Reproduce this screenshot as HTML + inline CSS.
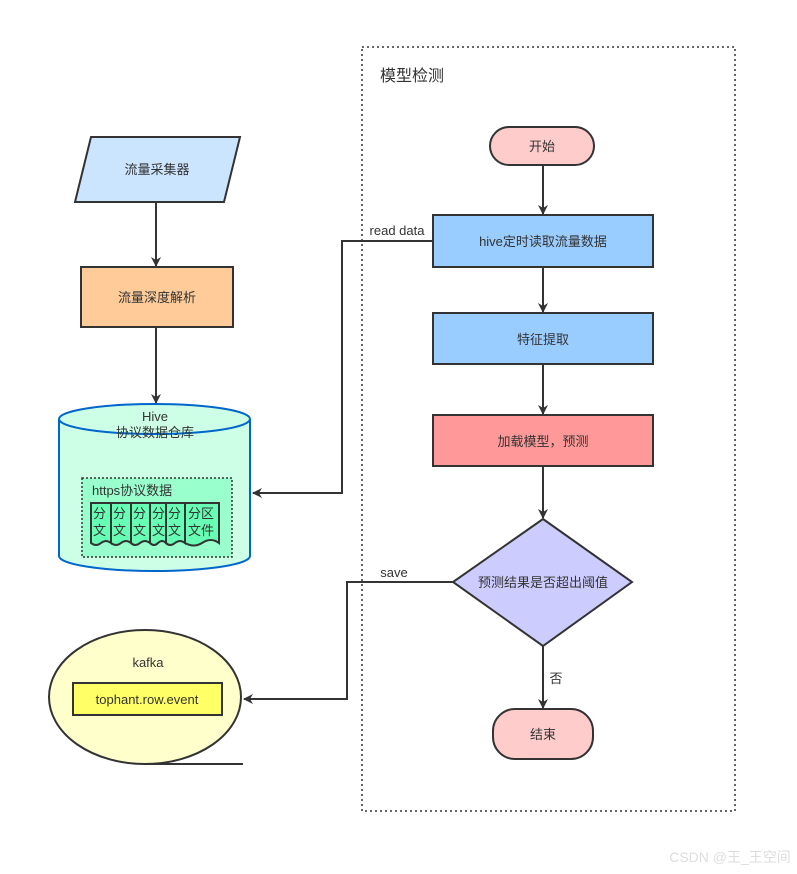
<!DOCTYPE html>
<html><head><meta charset="utf-8"><style>
html,body{margin:0;padding:0;background:#fff;}
svg{display:block;font-family:"Liberation Sans","Noto Sans CJK SC",sans-serif;}
</style></head><body>
<svg width="797" height="874" viewBox="0 0 797 874" xmlns="http://www.w3.org/2000/svg">
<defs>
<marker id="a" markerWidth="10" markerHeight="10" refX="9" refY="5" orient="auto" markerUnits="userSpaceOnUse">
<path d="M0,0 L10,5 L0,10 L3,5 Z" fill="#333"/></marker>
</defs>
<g fill="#333" font-size="13" text-anchor="middle">
<!-- container -->
<rect x="362" y="47" width="373" height="764" fill="none" stroke="#333" stroke-width="1.5" stroke-dasharray="2,3"/>
<text x="380" y="81" font-size="16" text-anchor="start">模型检测</text>

<!-- left -->
<polygon points="91,137 240,137 224,202 75,202" fill="#cce5ff" stroke="#333" stroke-width="2"/>
<text x="157" y="174">流量采集器</text>
<line x1="156" y1="202" x2="156" y2="266" stroke="#333" stroke-width="2" marker-end="url(#a)"/>
<rect x="81" y="267" width="152" height="60" fill="#ffcc99" stroke="#333" stroke-width="2"/>
<text x="157" y="302">流量深度解析</text>
<line x1="156" y1="327" x2="156" y2="403" stroke="#333" stroke-width="2" marker-end="url(#a)"/>

<!-- cylinder -->
<path d="M59,419 L59,556 A95.5,15 0 0 0 250,556 L250,419" fill="#ccffe6" stroke="#0066cc" stroke-width="2"/>
<ellipse cx="154.5" cy="419" rx="95.5" ry="15" fill="#ccffe6" stroke="#0066cc" stroke-width="2"/>
<text x="155" y="421" font-size="13">Hive</text>
<text x="155" y="437" font-size="13">协议数据仓库</text>
<rect x="82" y="478" width="150" height="79" fill="#99ffcc" stroke="#333" stroke-width="1.5" stroke-dasharray="2,2"/>
<text x="92" y="495" text-anchor="start">https协议数据</text>
<g stroke="#333" stroke-width="2" fill="#66ffb3">
<path d="M91,503 h20 v40 q-5,-4 -10,0 q-5,4 -10,0 Z"/>
<path d="M111,503 h20 v40 q-5,-4 -10,0 q-5,4 -10,0 Z"/>
<path d="M131,503 h19 v40 q-5,-4 -10,0 q-5,4 -9,0 Z"/>
<path d="M150,503 h16 v40 q-4,-4 -8,0 q-4,4 -8,0 Z"/>
<path d="M166,503 h19 v40 q-5,-4 -10,0 q-5,4 -9,0 Z"/>
<path d="M185,503 h34 v40 q-8,-6 -17,0 q-8,5 -17,0 Z"/>
</g>
<g font-size="13" text-anchor="start">
<text x="93" y="518">分</text><text x="93" y="535">文</text>
<text x="113" y="518">分</text><text x="113" y="535">文</text>
<text x="133" y="518">分</text><text x="133" y="535">文</text>
<text x="152" y="518">分</text><text x="152" y="535">文</text>
<text x="168" y="518">分</text><text x="168" y="535">文</text>
<text x="188" y="518">分区</text><text x="188" y="535">文件</text>
</g>

<!-- kafka -->
<ellipse cx="145" cy="697" rx="96" ry="67" fill="#ffffcc" stroke="#333" stroke-width="2"/>
<line x1="143" y1="764" x2="243" y2="764" stroke="#333" stroke-width="2"/>
<text x="148" y="667">kafka</text>
<rect x="73" y="683" width="149" height="32" fill="#ffff66" stroke="#333" stroke-width="2"/>
<text x="147" y="704">tophant.row.event</text>

<!-- right flow -->
<rect x="490" y="127" width="104" height="38" rx="19" fill="#ffcccc" stroke="#333" stroke-width="2"/>
<text x="542" y="151">开始</text>
<line x1="543" y1="165" x2="543" y2="214" stroke="#333" stroke-width="2" marker-end="url(#a)"/>
<rect x="433" y="215" width="220" height="52" fill="#99ccff" stroke="#333" stroke-width="2"/>
<text x="543" y="246">hive定时读取流量数据</text>
<line x1="543" y1="267" x2="543" y2="312" stroke="#333" stroke-width="2" marker-end="url(#a)"/>
<rect x="433" y="313" width="220" height="51" fill="#99ccff" stroke="#333" stroke-width="2"/>
<text x="543" y="344">特征提取</text>
<line x1="543" y1="364" x2="543" y2="414" stroke="#333" stroke-width="2" marker-end="url(#a)"/>
<rect x="433" y="415" width="220" height="51" fill="#ff9999" stroke="#333" stroke-width="2"/>
<text x="543" y="446">加载模型，预测</text>
<line x1="543" y1="466" x2="543" y2="518" stroke="#333" stroke-width="2" marker-end="url(#a)"/>
<polygon points="543,519 632,582 543,646 453,582" fill="#ccccff" stroke="#333" stroke-width="2"/>
<text x="543" y="587">预测结果是否超出阈值</text>
<line x1="543" y1="646" x2="543" y2="708" stroke="#333" stroke-width="2" marker-end="url(#a)"/>
<text x="556" y="683">否</text>
<rect x="493" y="709" width="100" height="50" rx="22" fill="#ffcccc" stroke="#333" stroke-width="2"/>
<text x="543" y="739">结束</text>

<!-- connectors -->
<polyline points="433,241 342,241 342,493 253,493" fill="none" stroke="#333" stroke-width="2" marker-end="url(#a)"/>
<text x="397" y="235">read data</text>
<polyline points="453,582 347,582 347,699 244,699" fill="none" stroke="#333" stroke-width="2" marker-end="url(#a)"/>
<text x="394" y="577">save</text>

<text x="730" y="862" fill="#ddd" font-size="14" text-anchor="middle">CSDN @王_王空间</text>
</g>
</svg>
</body></html>
